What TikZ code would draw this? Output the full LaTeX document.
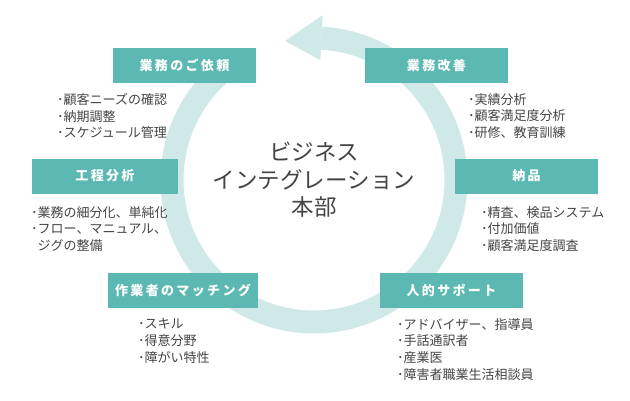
\documentclass[tikz,border=0pt]{standalone}
\usepackage{fontspec}
\setmainfont{Noto Sans CJK JP}
\usetikzlibrary{positioning}
\definecolor{boxteal}{HTML}{5BB8B2}
\definecolor{ringpale}{HTML}{CEE9E7}
\definecolor{textgray}{HTML}{444444}

\begin{document}
\begin{tikzpicture}[x=1pt,y=1pt,
    box/.style={fill=boxteal,text=white,minimum width=143pt,minimum height=35pt,inner sep=0pt,
      font=\fontsize{13}{15}\selectfont\bfseries\addfontfeatures{LetterSpace=18}},
    list/.style={anchor=north west,align=left,text=textgray,inner sep=0pt,
      font=\fontsize{13}{16.8}\selectfont},
    ring/.style={draw=ringpale,line width=23pt}]

   \useasboundingbox (0,0) rectangle (630,400);

   % centre and the cycle arrow
   \node[align=center,text=textgray,font=\fontsize{22.5}{27.5}\selectfont] (hub) at (314,220)
      {ビジネス\\インテグレーション\\本部};
   \draw[ring] (hub.center) ++(130:142) arc[start angle=130,end angle=447,radius=142];
   \fill[ringpale] (hub.center) +(87:165) -- +(87:120) -- +(101.7:142) -- cycle;

   % steps
   \node[box] (irai) at (184.5,334.5) {業務のご依頼};
   \node[box] (kaizen) at (436.5,334.5) {業務改善};
   \node[box,minimum width=146pt] (koutei) at (105,224) {工程分析};
   \node[box] (nouhin) at (526.5,224) {納品};
   \node[box,minimum width=150pt] (matching) at (183,109.5) {作業者のマッチング};
   \node[box] (support) at (451.5,109.5) {人的サポート};

   % details
   \node[list] (irailist) at (57,307) {･顧客ニーズの確認\\･納期調整\\･スケジュール管理};
   \node[list] (kaizenlist) at (468,307) {･実績分析\\･顧客満足度分析\\･研修、教育訓練};
   \node[list] (kouteilist) at (31,194) {･業務の細分化、単純化\\･フロー、マニュアル、\\\phantom{･}ジグの整備};
   \node[list] (nouhinlist) at (481,194) {･精査、検品システム\\･付加価値\\･顧客満足度調査};
   \node[list] (matchinglist) at (138,82) {･スキル\\･得意分野\\･障がい特性};
   \node[list] (supportlist) at (397,82) {･アドバイザー、指導員\\･手話通訳者\\･産業医\\･障害者職業生活相談員};

\end{tikzpicture}
\end{document}
